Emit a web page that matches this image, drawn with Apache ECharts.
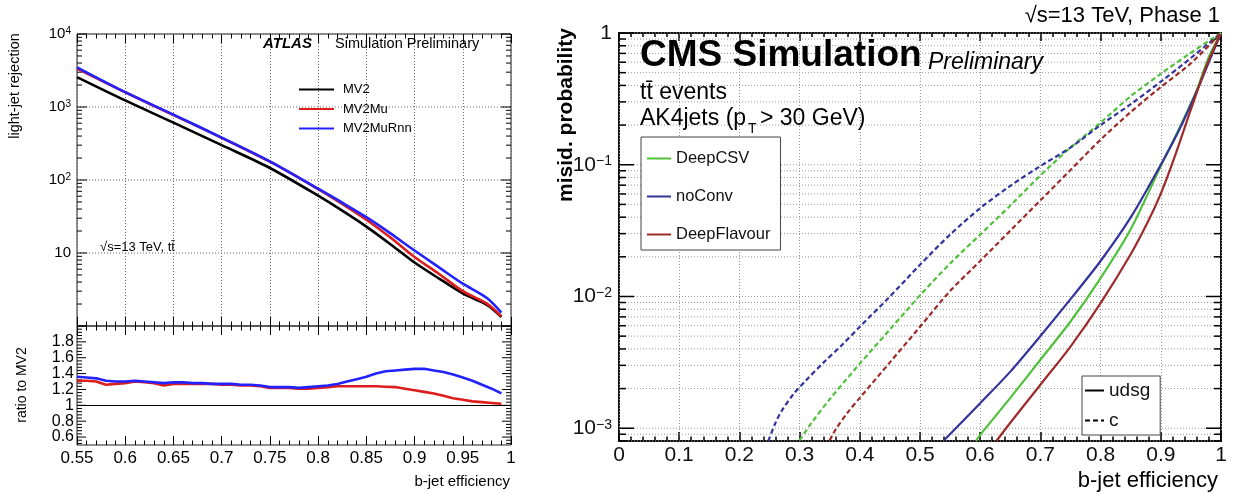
<!DOCTYPE html>
<html>
<head>
<meta charset="utf-8">
<title>b-tagging performance</title>
<script src="https://cdn.jsdelivr.net/npm/echarts@6/dist/echarts.min.js"></script>
<style>
  html, body { margin: 0; background: #fff; }
  #chart { width: 1234px; height: 494px; }
</style>
</head>
<body>
<div id="chart"></div>
<script>
// ---- ATLAS panel: light-jet rejection vs b-jet efficiency ----
var atlasEff     = [0.55, 0.6, 0.65, 0.7, 0.75, 0.8, 0.825, 0.85, 0.875, 0.9, 0.925, 0.95, 0.975, 0.99];
var mv2Rej       = [2570, 1230, 610, 300, 146, 61, 38, 23, 13.2, 7.4, 4.5, 2.8, 1.95, 1.33];
var mv2MuRej     = [3370, 1590, 775, 378, 178, 75, 47, 28.5, 16.3, 8.8, 5.2, 3.0, 2.03, 1.36];
var mv2MuRnnRej  = [3500, 1600, 787, 381, 180, 76, 49, 31, 18.6, 10.8, 6.4, 3.8, 2.42, 1.53];

// ratio to MV2
var ratioEff = [0.55, 0.56, 0.57, 0.58, 0.59, 0.60, 0.61, 0.62, 0.63, 0.64, 0.65, 0.66, 0.67, 0.68, 0.69,
                0.70, 0.71, 0.72, 0.73, 0.74, 0.75, 0.76, 0.77, 0.78, 0.79, 0.80, 0.81, 0.82, 0.83, 0.84,
                0.85, 0.86, 0.87, 0.88, 0.89, 0.90, 0.91, 0.92, 0.93, 0.94, 0.95, 0.96, 0.97, 0.98, 0.99];
var ratioMV2Mu = [1.31, 1.31, 1.30, 1.26, 1.27, 1.28, 1.30, 1.29, 1.28, 1.25, 1.27, 1.27, 1.27, 1.27, 1.27,
                  1.26, 1.26, 1.25, 1.25, 1.24, 1.22, 1.22, 1.22, 1.21, 1.21, 1.22, 1.23, 1.24, 1.24, 1.24,
                  1.24, 1.24, 1.235, 1.23, 1.21, 1.19, 1.17, 1.15, 1.12, 1.09, 1.07, 1.05, 1.04, 1.03, 1.02];
var ratioMV2MuRnn = [1.36, 1.35, 1.34, 1.31, 1.30, 1.30, 1.31, 1.30, 1.29, 1.28, 1.29, 1.29, 1.28, 1.28, 1.27,
                     1.27, 1.27, 1.26, 1.26, 1.25, 1.23, 1.23, 1.23, 1.22, 1.23, 1.24, 1.25, 1.27, 1.30, 1.33,
                     1.36, 1.40, 1.43, 1.44, 1.45, 1.46, 1.46, 1.44, 1.42, 1.39, 1.35, 1.31, 1.26, 1.21, 1.15];

// ---- CMS panel: misid. probability vs b-jet efficiency ----
var noConvUdsgEff  = [0.54, 0.60, 0.65, 0.70, 0.75, 0.80, 0.85, 0.90, 0.93, 0.96, 0.98, 1.0];
var noConvUdsgProb = [8.1e-4, 1.55e-3, 2.69e-3, 5.01e-3, 9.55e-3, 1.86e-2, 3.98e-2, 0.100, 0.182, 0.363, 0.603, 1.0];
var deepCsvUdsgEff  = [0.593, 0.60, 0.65, 0.70, 0.75, 0.80, 0.85, 0.90, 0.93, 0.96, 0.98, 1.0];
var deepCsvUdsgProb = [8.0e-4, 8.9e-4, 1.70e-3, 3.31e-3, 6.46e-3, 1.38e-2, 3.24e-2, 9.77e-2, 0.186, 0.372, 0.661, 1.0];
var deepFlavUdsgEff  = [0.627, 0.65, 0.70, 0.75, 0.80, 0.85, 0.88, 0.90, 0.92, 0.95, 0.975, 1.0];
var deepFlavUdsgProb = [8.0e-4, 1.10e-3, 2.14e-3, 4.17e-3, 8.91e-3, 2.09e-2, 3.80e-2, 6.03e-2, 0.105, 0.263, 0.55, 1.0];

var noConvCEff  = [0.248, 0.26, 0.27, 0.29, 0.31, 0.34, 0.37, 0.40, 0.45, 0.50, 0.55, 0.60, 0.65, 0.70, 0.75, 0.80, 0.85, 0.90, 0.95, 1.0];
var noConvCProb = [8.0e-4, 1.10e-3, 1.35e-3, 1.82e-3, 2.29e-3, 3.16e-3, 4.27e-3, 5.89e-3, 1.0e-2, 1.74e-2, 2.95e-2, 4.68e-2, 6.92e-2, 9.77e-2, 0.135, 0.20, 0.288, 0.427, 0.646, 1.0];
var deepCsvCEff  = [0.30, 0.32, 0.35, 0.40, 0.45, 0.50, 0.55, 0.60, 0.65, 0.70, 0.75, 0.80, 0.85, 0.90, 0.95, 1.0];
var deepCsvCProb = [8.1e-4, 1.10e-3, 1.66e-3, 3.09e-3, 5.62e-3, 1.02e-2, 1.78e-2, 2.95e-2, 4.9e-2, 8.3e-2, 0.135, 0.209, 0.331, 0.49, 0.708, 1.0];
var deepFlavCEff  = [0.35, 0.36, 0.38, 0.40, 0.45, 0.50, 0.55, 0.60, 0.65, 0.70, 0.75, 0.80, 0.85, 0.90, 0.95, 1.0];
var deepFlavCProb = [8.1e-4, 9.8e-4, 1.32e-3, 1.70e-3, 3.16e-3, 5.89e-3, 1.10e-2, 1.86e-2, 3.16e-2, 5.37e-2, 9.12e-2, 0.155, 0.251, 0.389, 0.589, 1.0];

// tick values
var logMantissas   = [2, 3, 4, 5, 6, 7, 8, 9];
var atlasDecades   = [1, 10, 100, 1000, 10000];
var cmsDecades     = [0.0001, 0.001, 0.01, 0.1, 1];
var ratioLabels    = [0.6, 0.8, 1, 1.2, 1.4, 1.6, 1.8];
var ratioMajor     = [0.6, 0.8, 1.0, 1.2, 1.4, 1.6, 1.8, 2.0];

var FONT = '"Liberation Sans", Arial, Helvetica, sans-serif';

function pairs(xs, ys) {
  return xs.map(function (x, i) { return [x, ys[i]]; });
}

function logTicks(decades, majorLen, minorLen, gridAll, gridMajor) {
  var res = [];
  decades.forEach(function (d) {
    res.push({ v: d, len: majorLen, grid: gridMajor });
    logMantissas.forEach(function (m) {
      res.push({ v: m * d, len: minorLen, grid: gridAll });
    });
  });
  return res;
}

function ratioTicks() {
  var res = [];
  ratioMajor.forEach(function (v) {
    res.push({ v: v, len: 9, grid: false });
    for (var k = 1; k < 5; k++) {
      res.push({ v: v - 0.04 * k, len: 5, grid: false });
    }
  });
  return res;
}

// y ticks on both sides of a frame (+ optional dotted grid lines)
function tickSeries(xi, yi, xRef, ticks, tickWidth, gridColor) {
  return {
    type: 'custom',
    xAxisIndex: xi,
    yAxisIndex: yi,
    silent: true,
    z: 1,
    clip: false,
    data: ticks.map(function (t) { return [xRef, t.v, t.len, t.grid ? 1 : 0]; }),
    renderItem: function (params, api) {
      var cs = params.coordSys;
      var py = api.coord([xRef, api.value(1)])[1];
      if (py < cs.y - 0.6 || py > cs.y + cs.height + 0.6) {
        return { type: 'group', children: [] };
      }
      var len = api.value(2);
      var x0 = cs.x, x1 = cs.x + cs.width;
      var kids = [
        { type: 'line', shape: { x1: x0, y1: py, x2: x0 + len, y2: py },
          style: { stroke: '#000', lineWidth: tickWidth } },
        { type: 'line', shape: { x1: x1, y1: py, x2: x1 - len, y2: py },
          style: { stroke: '#000', lineWidth: tickWidth } }
      ];
      if (api.value(3)) {
        kids.unshift({ type: 'line', shape: { x1: x0, y1: py, x2: x1, y2: py },
          style: { stroke: gridColor, lineWidth: 1, lineDash: [1, 2] } });
      }
      return { type: 'group', children: kids };
    }
  };
}

function tickAxis(grid, min, max, interval, pos, len, width) {
  return {
    type: 'value', gridIndex: grid, position: pos, min: min, max: max, interval: interval,
    axisLine: { show: false },
    axisTick: { show: true, inside: true, length: len, lineStyle: { color: '#000', width: width } },
    minorTick: { show: true, splitNumber: 5, length: len / 2, lineStyle: { color: '#000', width: width } },
    axisLabel: { show: false },
    splitLine: { show: false }
  };
}

var chart = echarts.init(document.getElementById('chart'), null, { renderer: 'canvas' });

var xAxes = [];
// 0: ATLAS main, bottom
var ax0 = tickAxis(0, 0.55, 1, 0.05, 'bottom', 9, 1);
ax0.splitLine = { show: true, lineStyle: { color: '#666', width: 1, type: [1, 2] } };
xAxes.push(ax0);
// 1: ATLAS main, top
xAxes.push(tickAxis(0, 0.55, 1, 0.05, 'top', 9, 1));
// 2: ratio, bottom (labels)
var ax2 = tickAxis(1, 0.55, 1, 0.05, 'bottom', 9, 1);
ax2.axisLabel = { show: true, color: '#000', fontSize: 17, fontFamily: FONT, margin: 5 };
xAxes.push(ax2);
// 3: ratio, top
xAxes.push(tickAxis(1, 0.55, 1, 0.05, 'top', 9, 1));
// 4: CMS, bottom (labels)
var ax4 = tickAxis(2, 0, 1, 0.1, 'bottom', 9, 1.5);
ax4.axisLabel = { show: true, color: '#111', fontSize: 21, fontFamily: FONT, margin: 4 };
ax4.splitLine = { show: true, lineStyle: { color: '#999', width: 1, type: [1, 2] } };
xAxes.push(ax4);
// 5: CMS, top
xAxes.push(tickAxis(2, 0, 1, 0.1, 'top', 8, 1.5));

var supRich = {
  sup: { fontSize: 10, verticalAlign: 'top', lineHeight: 12, fontFamily: FONT, color: '#000' }
};
var cmsSupRich = {
  sup: { fontSize: 14, verticalAlign: 'top', lineHeight: 16, fontFamily: FONT, color: '#111' }
};

var yAxes = [
  {
    type: 'log', gridIndex: 0, logBase: 10, min: 1, max: 10000,
    axisLine: { show: false }, axisTick: { show: false }, splitLine: { show: false },
    axisLabel: {
      customValues: [10, 100, 1000, 10000],
      color: '#000', fontSize: 15, fontFamily: FONT, margin: 6,
      formatter: function (v) {
        var e = Math.round(Math.log10(v));
        return e === 1 ? '10' : '10{sup|' + e + '}';
      },
      rich: supRich
    }
  },
  {
    type: 'value', gridIndex: 1, min: 0.5, max: 2,
    axisLine: { show: false }, axisTick: { show: false }, splitLine: { show: false },
    axisLabel: { customValues: ratioLabels, color: '#000', fontSize: 16, fontFamily: FONT, margin: 3 }
  },
  {
    type: 'log', gridIndex: 2, logBase: 10, min: 8e-4, max: 1,
    axisLine: { show: false }, axisTick: { show: false }, splitLine: { show: false },
    axisLabel: {
      customValues: [0.001, 0.01, 0.1, 1],
      color: '#111', fontSize: 21, fontFamily: FONT, margin: 7,
      formatter: function (v) {
        var e = Math.round(Math.log10(v));
        return e === 0 ? '1' : '10{sup|\u2212' + (-e) + '}';
      },
      rich: cmsSupRich
    }
  }
];

function atlasLine(name, data, color, xi, yi) {
  return {
    type: 'line', name: name, xAxisIndex: xi, yAxisIndex: yi, data: data,
    symbol: 'none', smooth: 0.3, z: 3,
    lineStyle: { color: color, width: 2.6 }, itemStyle: { color: color }
  };
}

function cmsLine(name, data, color, dashed) {
  return {
    type: 'line', name: name, xAxisIndex: 4, yAxisIndex: 2, data: data,
    symbol: 'none', smooth: 0.3, z: 3,
    lineStyle: { color: color, width: 2.2, type: dashed ? [5, 3] : 'solid' },
    itemStyle: { color: color }
  };
}

var green = '#4fc13a', navy = '#33339c', maroon = '#9e2b2b';

var series = [
  tickSeries(0, 0, 0.55, logTicks(atlasDecades, 10, 5, false, true), 1, '#666'),
  tickSeries(2, 1, 0.55, ratioTicks(), 1, '#666'),
  tickSeries(4, 2, 0, logTicks(cmsDecades, 15, 7, true, true), 1.5, '#999'),

  atlasLine('MV2', pairs(atlasEff, mv2Rej), '#000000', 0, 0),
  atlasLine('MV2Mu', pairs(atlasEff, mv2MuRej), '#dd1c1c', 0, 0),
  atlasLine('MV2MuRnn', pairs(atlasEff, mv2MuRnnRej), '#2222ff', 0, 0),

  (function () {
    var s = atlasLine('MV2Mu / MV2', pairs(ratioEff, ratioMV2Mu), '#dd1c1c', 2, 1);
    s.smooth = false;
    s.markLine = {
      silent: true, symbol: ['none', 'none'], label: { show: false },
      lineStyle: { color: '#000', width: 1, type: 'solid' },
      data: [{ yAxis: 1 }]
    };
    return s;
  })(),
  (function () {
    var s = atlasLine('MV2MuRnn / MV2', pairs(ratioEff, ratioMV2MuRnn), '#2222ff', 2, 1);
    s.smooth = false;
    return s;
  })(),

  cmsLine('DeepCSV', pairs(deepCsvUdsgEff, deepCsvUdsgProb), green, false),
  cmsLine('noConv', pairs(noConvUdsgEff, noConvUdsgProb), navy, false),
  cmsLine('DeepFlavour', pairs(deepFlavUdsgEff, deepFlavUdsgProb), maroon, false),
  cmsLine('DeepCSV', pairs(deepCsvCEff, deepCsvCProb), green, true),
  cmsLine('noConv', pairs(noConvCEff, noConvCProb), navy, true),
  cmsLine('DeepFlavour', pairs(deepFlavCEff, deepFlavCProb), maroon, true),
  cmsLine('udsg', [], '#000', false),
  cmsLine('c', [], '#000', true)
];

function txt(x, y, text, font, align, extra) {
  var el = {
    type: 'text', x: x, y: y, z: 10, silent: true,
    style: { text: text, font: font, fill: '#000', align: align || 'left', verticalAlign: 'middle' }
  };
  if (extra) { for (var k in extra) { el[k] = extra[k]; } }
  return el;
}

// legend icons: plain line, no symbol
var noSymbol = { opacity: 0, borderWidth: 0 };

chart.setOption({
  animation: false,
  backgroundColor: '#fff',
  textStyle: { fontFamily: FONT },
  grid: [
    { left: 77, top: 34, width: 434, height: 292, show: true, borderColor: '#222', borderWidth: 1, backgroundColor: 'transparent' },
    { left: 77, top: 326, width: 434, height: 119, show: true, borderColor: '#222', borderWidth: 1, backgroundColor: 'transparent' },
    { left: 619, top: 33, width: 602, height: 408, show: true, borderColor: '#111', borderWidth: 2, backgroundColor: 'transparent' }
  ],
  xAxis: xAxes,
  yAxis: yAxes,
  legend: [
    {
      data: ['MV2', 'MV2Mu', 'MV2MuRnn'], orient: 'vertical', left: 298, top: 83,
      itemWidth: 35, itemHeight: 14, itemGap: 6.5, padding: 0, selectedMode: false,
      itemStyle: noSymbol,
      textStyle: { fontSize: 13, color: '#000', fontFamily: FONT, padding: [0, 0, 0, 4] }
    },
    {
      data: ['DeepCSV', 'noConv', 'DeepFlavour'], orient: 'vertical', left: 641, top: 137,
      itemWidth: 24, itemHeight: 14, itemGap: 21, padding: [13, 10, 7, 5], selectedMode: false,
      itemStyle: noSymbol,
      backgroundColor: '#fff', borderColor: '#444', borderWidth: 1,
      textStyle: { fontSize: 16.5, color: '#111', fontFamily: FONT }
    },
    {
      data: ['udsg', 'c'], orient: 'vertical', left: 1082, top: 376,
      itemWidth: 19, itemHeight: 14, itemGap: 11, padding: [5, 10, 5, 2], selectedMode: false,
      itemStyle: noSymbol,
      backgroundColor: '#fff', borderColor: '#444', borderWidth: 1,
      textStyle: { fontSize: 19, color: '#111', fontFamily: FONT }
    }
  ],
  series: series,
  graphic: [
    // ATLAS panel texts
    txt(15, 86, 'light-jet rejection', '14.5px ' + FONT, 'center', { rotation: Math.PI / 2 }),
    txt(22, 385, 'ratio to MV2', '14px ' + FONT, 'center', { rotation: Math.PI / 2 }),
    txt(510, 482, 'b-jet efficiency', '15px ' + FONT, 'right'),
    txt(263, 44, 'ATLAS', 'italic bold 15px ' + FONT, 'left'),
    txt(335, 44, 'Simulation Preliminary', '14.5px ' + FONT, 'left'),
    txt(100, 247, '\u221As=13 TeV, tt\u0304', '13px ' + FONT, 'left'),
    // CMS panel texts
    txt(566, 115, 'misid. probability', 'bold 21px ' + FONT, 'center', { rotation: Math.PI / 2 }),
    txt(1220, 16, '\u221As=13 TeV, Phase 1', '22px ' + FONT, 'right'),
    txt(640, 56, 'CMS Simulation', 'bold 37px ' + FONT, 'left'),
    txt(928, 63, 'Preliminary', 'italic 23px ' + FONT, 'left'),
    txt(640, 93, 'tt\u0304 events', '23px ' + FONT, 'left'),
    txt(640, 119, 'AK4jets (p', '23px ' + FONT, 'left'),
    txt(748, 129, 'T', '14px ' + FONT, 'left'),
    txt(760, 119, '> 30 GeV)', '23px ' + FONT, 'left'),
    txt(1218, 481, 'b-jet efficiency', '22px ' + FONT, 'right')
  ]
});
</script>
</body>
</html>
